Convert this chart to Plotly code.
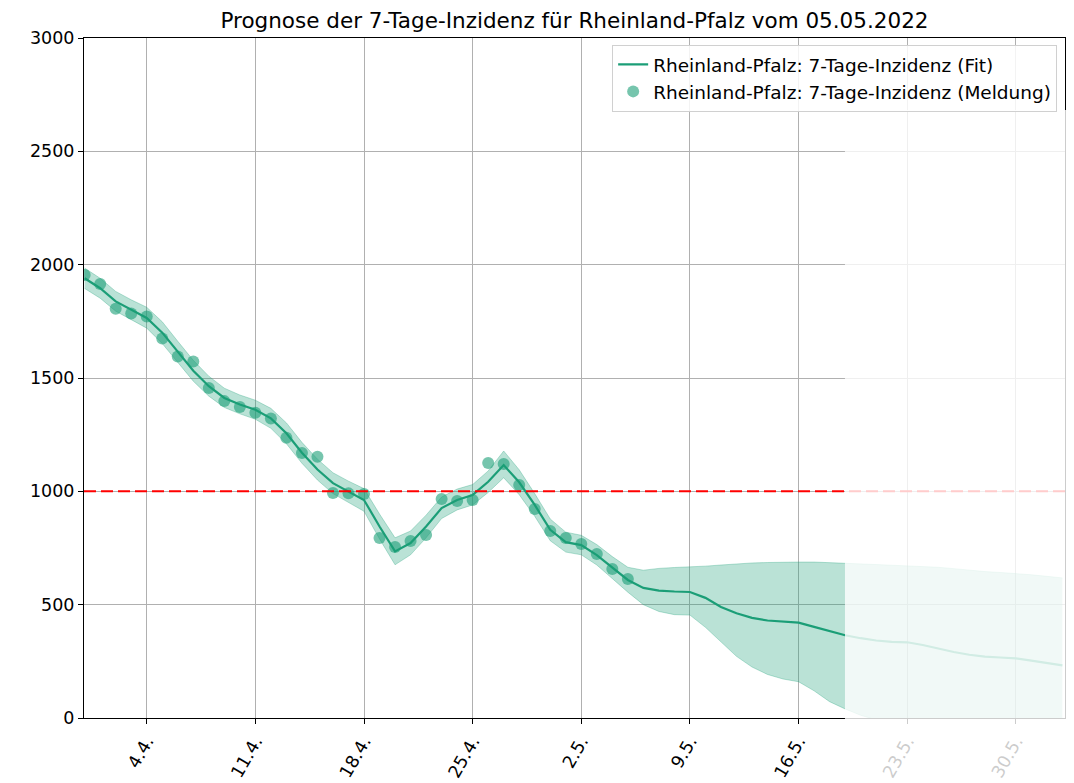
import pandas as pd
import plotly.graph_objects as go

# ---------------- data ----------------
dates = pd.date_range("2022-03-31", "2022-06-02", freq="D")

report_dates = pd.date_range("2022-03-31", "2022-05-05", freq="D")
meldung = [1954, 1915, 1806, 1785, 1771,
           1674, 1595, 1573, 1456, 1398,
           1372, 1347, 1321, 1236, 1169,
           1153, 993, 991, 988, 794,
           754, 781, 807, 966, 957,
           962, 1125, 1121, 1028, 922,
           825, 794, 768, 724, 657, 613]

fit = [1940,
       1896, 1838, 1800, 1765, 1700, 1615, 1532, 1464, 1412, 1383,
       1360, 1322, 1256, 1170, 1096, 1036, 998, 962, 845, 735,
       772, 845, 926, 962, 984, 1042, 1116, 1040, 940, 830,
       776, 763, 719, 662, 609, 574, 562, 558, 556, 530,
       490, 462, 442, 430, 425, 421, 402, 382, 365, 352,
       342, 336, 334, 322, 306, 291, 279, 271, 267, 263, 253,
       242, 232]

upper = [1985,
         1940, 1882, 1845, 1812, 1748, 1662, 1578, 1508, 1455, 1425,
         1402, 1366, 1302, 1216, 1142, 1082, 1045, 1012, 900, 795,
         825, 895, 975, 1010, 1030, 1090, 1178, 1095, 990, 878,
         820, 806, 765, 712, 665, 652, 660, 664, 666, 670,
         675, 680, 684, 686, 688, 688, 688, 686, 683, 680,
         677, 674, 672, 670, 665, 659, 652, 646, 642, 638, 632,
         625, 618]

lower = [1895,
         1852, 1795, 1757, 1720, 1652, 1568, 1486, 1420, 1370, 1342,
         1318, 1278, 1210, 1124, 1050, 990, 952, 912, 790, 676,
         720, 795, 880, 918, 940, 995, 1060, 985, 890, 782,
         732, 720, 675, 615, 555, 500, 470, 456, 454, 400,
         335, 272, 225, 192, 172, 160, 120, 72, 40, 12,
         -8, -30, -50, -65, -80, -90, -100, -110, -115, -120, -125,
         -130, -135]

threshold = 1000

tick_dates = ["2022-04-04", "2022-04-11", "2022-04-18", "2022-04-25",
              "2022-05-02", "2022-05-09", "2022-05-16", "2022-05-23",
              "2022-05-30"]
tick_labels = ["4.4.", "11.4.", "18.4.", "25.4.", "2.5.", "9.5.", "16.5.",
               "23.5.", "30.5."]
y_ticks = [0, 500, 1000, 1500, 2000, 2500, 3000]

title = "Prognose der 7-Tage-Inzidenz für Rheinland-Pfalz vom 05.05.2022"
name_fit = "Rheinland-Pfalz: 7-Tage-Inzidenz (Fit)"
name_meld = "Rheinland-Pfalz: 7-Tage-Inzidenz (Meldung)"

# ---------------- figure ----------------
GREEN = "#1b9e77"
FONT = "DejaVu Sans"
W, H = 1066, 775   # page body has an 8px margin

fig = go.Figure()

fig.add_trace(go.Scatter(x=dates, y=lower, mode="lines",
                         line=dict(color="rgba(27,158,119,0.30)", width=1),
                         showlegend=False, hoverinfo="skip"))
fig.add_trace(go.Scatter(x=dates, y=upper, mode="lines", fill="tonexty",
                         fillcolor="rgba(27,158,119,0.30)",
                         line=dict(color="rgba(27,158,119,0.30)", width=1),
                         showlegend=False, hoverinfo="skip"))
fig.add_trace(go.Scatter(x=dates, y=fit, mode="lines", name=name_fit,
                         line=dict(color=GREEN, width=2.2)))
fig.add_trace(go.Scatter(x=report_dates, y=meldung, mode="markers", name=name_meld,
                         marker=dict(color=GREEN, size=12, opacity=0.6,
                                     line=dict(width=0))))

fig.add_hline(y=threshold, line=dict(color="red", width=2, dash="12px,5px"))

# faded overlay on the right part (as in the reference screenshot)
fig.add_shape(type="rect", xref="paper", yref="paper",
              x0=0.7757, x1=1.03, y0=-0.2, y1=0.894,
              fillcolor="rgba(255,255,255,0.8)", line=dict(width=0),
              layer="above")

axis_common = dict(showline=True, linecolor="black", linewidth=1, mirror=True,
                   showgrid=True, gridcolor="#b0b0b0", gridwidth=1,
                   ticks="outside", ticklen=5, tickcolor="black",
                   zeroline=False, automargin=False,
                   tickfont=dict(family=FONT, size=17.5, color="black"))

fig.update_xaxes(range=["2022-03-30 23:00", "2022-06-02 04:00"],
                 tickvals=tick_dates, ticktext=tick_labels, tickangle=-60,
                 **axis_common)
fig.update_yaxes(range=[0, 3000], tickvals=y_ticks, **axis_common)

fig.update_layout(
    width=W, height=H,
    margin=dict(l=76, r=9, t=30, b=65),
    paper_bgcolor="white", plot_bgcolor="white",
    title=dict(text=title, x=0.5, xref="paper", xanchor="center",
               y=1 - 12 / H, yanchor="middle",
               font=dict(family=FONT, size=21.5, color="black")),
    legend=dict(x=0.992, y=0.99, xanchor="right", yanchor="top",
                traceorder="normal",
                bgcolor="rgba(255,255,255,0.85)", bordercolor="#d0d0d0",
                borderwidth=1, font=dict(family=FONT, size=18.5, color="black"),
                tracegroupgap=0),
    showlegend=True,
)

fig.write_html("out.html")
